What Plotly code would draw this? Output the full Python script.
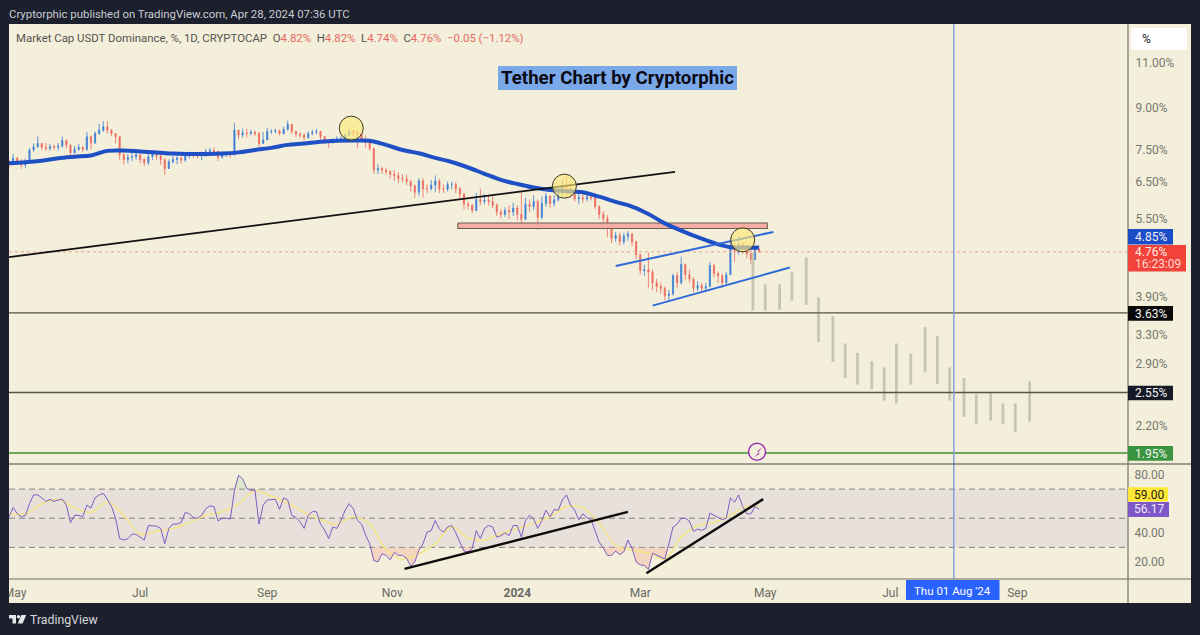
import pandas as pd
import plotly.graph_objects as go

# ---- data ----
candle_start = "2023-04-28"   # one candle per two days
close = [7.00,7.21,7.12,7.00,7.10,7.48,7.59,7.70,7.57,7.53,7.59,7.57,7.61,7.80,7.65,7.39,7.50,7.57,7.50,7.93,
7.72,8.05,8.17,8.29,8.17,8.05,7.93,7.32,7.17,7.24,7.26,7.32,7.17,7.07,7.26,7.35,7.28,7.17,6.89,7.10,
7.17,7.21,7.15,7.32,7.35,7.32,7.28,7.32,7.43,7.46,7.43,7.24,7.35,7.35,7.32,8.17,7.99,8.07,8.05,8.09,
8.05,7.70,7.82,8.12,8.12,8.14,8.05,8.20,8.38,8.12,8.03,7.99,7.90,8.05,8.09,8.12,7.93,7.80,7.72,7.82,
7.85,7.85,7.99,8.12,8.09,8.05,7.85,7.75,7.53,6.84,6.89,6.84,6.79,6.72,6.68,6.59,6.57,6.50,6.38,6.20,
6.52,6.30,6.30,6.40,6.52,6.30,6.28,6.42,6.42,6.30,6.15,5.88,5.85,5.72,6.00,5.95,5.98,5.95,5.85,5.68,
5.62,5.72,5.68,5.78,5.62,5.50,5.88,5.82,5.95,5.55,5.90,6.10,5.90,6.00,6.18,6.38,6.32,6.20,6.02,6.05,
6.02,6.08,6.05,5.82,5.62,5.52,5.28,5.05,5.12,4.98,5.10,5.15,4.98,4.70,4.38,4.40,4.35,4.15,4.08,4.05,
3.92,3.95,4.28,4.15,4.50,4.30,4.22,4.05,4.10,4.05,4.08,4.48,4.32,4.28,4.15,4.30,4.88,4.78,4.92,4.85,
4.72,4.60,4.82,4.76]
high = [7.15,7.35,7.25,7.18,7.20,7.55,7.70,7.95,7.72,7.72,7.68,7.66,7.72,7.95,7.85,7.65,7.62,7.68,7.60,8.10,
7.98,8.12,8.40,8.50,8.50,8.20,8.05,7.95,7.40,7.35,7.38,7.48,7.34,7.22,7.40,7.46,7.40,7.32,7.20,7.18,
7.28,7.30,7.26,7.40,7.42,7.40,7.38,7.42,7.52,7.55,7.56,7.45,7.42,7.42,7.40,8.42,8.15,8.22,8.22,8.18,
8.15,8.10,8.10,8.25,8.20,8.22,8.20,8.30,8.52,8.40,8.15,8.08,8.05,8.12,8.18,8.22,8.15,7.95,7.85,7.88,
7.95,7.95,8.05,8.22,8.18,8.12,8.05,7.98,7.85,7.55,7.02,6.95,6.90,6.84,6.84,6.78,6.72,6.70,6.55,6.42,
6.60,6.60,6.42,6.55,6.68,6.58,6.42,6.50,6.50,6.48,6.35,6.18,5.95,5.88,6.18,6.30,6.15,6.10,6.10,5.90,
5.75,5.80,5.85,5.92,5.85,6.22,6.05,6.00,6.12,6.00,6.08,6.18,6.10,6.12,6.25,6.55,6.65,6.42,6.28,6.18,
6.15,6.15,6.14,6.08,5.85,5.70,5.60,5.30,5.20,5.18,5.18,5.22,5.18,5.00,4.72,4.50,4.75,4.40,4.22,4.15,
4.08,4.02,4.32,4.35,4.66,4.52,4.40,4.25,4.18,4.15,4.15,4.55,4.52,4.36,4.32,4.36,5.05,4.95,5.10,4.98,
4.88,4.80,4.88,4.82]
low = [6.88,7.02,7.00,6.88,6.90,7.10,7.42,7.55,7.48,7.46,7.46,7.48,7.46,7.55,7.52,7.28,7.36,7.45,7.42,7.45,
7.50,7.68,8.00,8.10,8.05,7.95,7.70,7.15,7.00,7.05,7.12,7.16,7.05,6.96,7.00,7.15,7.15,7.00,6.70,6.88,
7.04,7.02,7.04,7.10,7.20,7.22,7.20,7.15,7.25,7.32,7.35,7.12,7.20,7.25,7.22,7.30,7.85,7.90,7.90,7.98,
7.95,7.58,7.70,7.95,8.02,8.05,7.98,8.00,8.15,8.02,7.92,7.88,7.80,7.86,7.98,8.02,7.82,7.68,7.55,7.70,
7.72,7.75,7.85,7.98,7.95,7.55,7.75,7.55,7.45,6.72,6.72,6.72,6.70,6.60,6.52,6.45,6.48,6.40,6.22,6.05,
6.10,6.05,6.18,6.25,6.20,6.18,6.18,6.22,6.28,6.18,6.00,5.75,5.75,5.65,5.70,5.85,5.88,5.85,5.78,5.58,
5.52,5.56,5.50,5.58,5.48,5.32,5.60,5.68,5.72,5.25,5.50,5.82,5.78,5.82,5.95,6.10,6.05,6.05,5.95,5.88,
5.92,5.95,5.98,5.75,5.50,5.42,5.08,4.95,4.98,4.90,4.92,5.00,4.88,4.60,4.30,4.28,4.06,4.02,3.98,3.95,
3.84,3.82,3.92,4.05,4.12,4.20,4.15,3.98,4.00,3.98,3.98,4.08,4.25,4.15,4.05,4.12,4.30,4.55,4.70,4.72,
4.62,4.50,4.62,4.74]
first_open = 7.05

ma_step_dates_start = "2023-04-28"   # one reading per eight days
ma_line = [7.05,7.08,7.13,7.21,7.26,7.30,7.45,7.46,7.43,7.40,7.36,7.35,7.35,7.36,7.40,7.48,7.55,7.65,7.70,7.76,
7.79,7.80,7.79,7.65,7.48,7.37,7.22,7.09,6.92,6.73,6.55,6.43,6.33,6.26,6.23,6.20,6.08,5.94,5.82,5.63,
5.40,5.23,5.08,4.95,4.86,4.85]

rsi = [50.9,57.4,53.2,50.9,52,60,66,66,64,61.5,63,61.5,62.5,63,59,47,52,52,51,59,
57,64,66,67,63,58,50,36,35,36,39,39,37,35,45,45,44.5,43,32.5,43,
46,46,47,54,53,50.5,50,52,56.5,58.5,58,48,50,50,49.5,69,79.5,77,70.5,69,
69.5,46,59,62.5,62.5,63,56,64,62.5,52,50.5,47.5,43,52,54.5,54.5,46,42,36,44,
43,48.5,55.5,60,56.5,48.5,46,38.5,32.5,21,20,25.6,24.5,21.5,26.5,24.5,24.5,22.5,17,20,
28,32.5,40.5,41.5,48.5,42.5,40.5,44,45,40,33.5,27.5,27,29,41.5,36,43,45,44,37,
38,40,38,45,45,37,48.5,52,49.5,43,48.5,55.5,51,56,55.5,62.5,66,59,55.5,49,
53,50.5,49,41.7,33.5,29.5,24.5,24.5,27.5,25,27,35,29.5,20,18,17.5,15,26,24.5,23.3,
22,32.5,44,46,50,50,48,41,42.5,41.7,43,53.5,52,50,49,50,64,61,66,58,
53,53,58,56.17]
rsi_ma = [53,53,60,63,57,54,61,52,39,41,43,47,52,54.5,60,69,65,60.5,54,49,
46,51,46,28.5,22,25.5,32.5,44,36.5,35,39.5,43,46.5,51,58,57,46.5,31.5,28,26,
22,37,45,47,52,58]
last_reading = "2024-04-28"

ghost_dates = ["2024-04-25","2024-05-01","2024-05-08","2024-05-14","2024-05-21","2024-05-27","2024-06-03","2024-06-09",
"2024-06-15","2024-06-22","2024-06-28","2024-07-04","2024-07-11","2024-07-18","2024-07-24","2024-07-30","2024-08-06",
"2024-08-12","2024-08-19","2024-08-25","2024-08-31","2024-09-07"]
ghost_high = [4.74,4.12,4.12,4.35,4.64,3.89,3.58,3.17,3.04,2.93,2.85,3.17,3.03,3.41,3.28,2.85,2.72,2.53,2.56,2.43,2.43,2.68]
ghost_low = [3.67,3.67,3.68,3.83,3.76,3.19,2.92,2.72,2.64,2.59,2.46,2.43,2.64,2.79,2.65,2.46,2.29,2.22,2.25,2.22,2.14,2.24]

axis_start, axis_end = "2023-04-28", "2024-10-25"
black_trend_x, black_trend_y = ["2023-04-28","2024-03-18"], [4.65,6.79]
channel_up_x, channel_up_y = ["2024-02-18","2024-05-05"], [4.47,5.20]
channel_lo_x, channel_lo_y = ["2024-03-07","2024-05-13"], [3.75,4.44]
zone_x = ["2023-12-03","2024-05-02"]
zone_y = [5.41,5.28]
level_black = [3.63,2.55]
level_green = 1.95
last_price = 4.76
circle_x = ["2023-10-12","2024-01-24","2024-04-20"]
circle_y = [8.24,6.37,5.02]
badge_x, badge_y = ["2024-04-27"], [1.96]
rsi_trend1_x, rsi_trend1_y = ["2023-11-07","2024-02-24"], [15.3,54.3]
rsi_trend2_x, rsi_trend2_y = ["2024-03-04","2024-04-30"], [12.3,63.1]
cursor_date = "2024-08-01"

price_ticks = [11,9,7.5,6.5,5.5,3.9,3.3,2.9,2.2]
price_labels = ["11.00%","9.00%","7.50%","6.50%","5.50%","3.90%","3.30%","2.90%","2.20%"]
rsi_ticks = [80,40,20]
rsi_labels = ["80.00","40.00","20.00"]
time_ticks = ["2023-05-01","2023-07-01","2023-09-01","2023-11-01","2024-01-01","2024-03-01","2024-05-01","2024-07-01","2024-09-01"]
time_labels = ["May","Jul","Sep","Nov","<b>2024</b>","Mar","May","Jul","Sep"]

# ---- styles ----
DARK, CREAM = "#1c202c", "#f3efdb"
UP, DOWN = "#3f7fd6", "#ee6a5f"
W, H = 1200, 635
L, R, T, B = 9, 1128, 24, 579
FONT = "Roboto"

def px(x): return (x - L) / (R - L)
def py(y): return (B - y) / (B - T)

def rect(x0, y0, x1, y1, color, layer="above", line=None):
    return dict(type="rect", xref="paper", yref="paper", x0=px(x0), x1=px(x1), y0=py(y0), y1=py(y1),
                fillcolor=color, line=dict(width=0 if line is None else 1, color=line or color), layer=layer)

def poly(points, color):
    d = "M" + " L".join(f"{px(a):.5f},{py(b):.5f}" for a, b in points) + " Z"
    return dict(type="path", xref="paper", yref="paper", path=d, fillcolor=color, line=dict(width=0), layer="above")

def text(x, y, s, size=12, color="#555", anchor="left", bg=None, family=FONT):
    return dict(xref="paper", yref="paper", x=px(x), y=py(y), text=s, showarrow=False, xanchor=anchor, yanchor="middle",
                font=dict(size=size, color=color, family=family), bgcolor=bg, borderpad=0)

dates = pd.date_range(candle_start, periods=len(close), freq="2D")
ma_dates = list(pd.date_range(ma_step_dates_start, periods=len(ma_line), freq="8D")) + [pd.Timestamp(last_reading)]
opens = [first_open] + close[:-1]

fig = go.Figure()
def line(x, y, color, width, axis="y", dash=None, shape=None):
    fig.add_trace(go.Scatter(x=x, y=y, mode="lines", yaxis=axis, xaxis="x", hoverinfo="skip", showlegend=False,
                             line=dict(color=color, width=width, dash=dash, shape=shape)))

# ghost bars
gx, gy = [], []
for d, a, b in zip(ghost_dates, ghost_high, ghost_low):
    gx += [d, d, None]; gy += [a, b, None]
line(gx, gy, "#c8c5b4", 2.8)

# levels
for lv in level_black:
    line([axis_start, axis_end], [lv, lv], "#55534a", 1.4)
line([axis_start, axis_end], [level_green, level_green], "#3f8f35", 1.6)
line([axis_start, axis_end], [last_price, last_price], "#e7a48f", 1, dash="dot")

# support zone
fig.add_trace(go.Scatter(x=[zone_x[0], zone_x[1], zone_x[1], zone_x[0], zone_x[0]],
                         y=[zone_y[0], zone_y[0], zone_y[1], zone_y[1], zone_y[0]], mode="lines", fill="toself",
                         fillcolor="#f5aea6", line=dict(color="#6b5a50", width=1.1), hoverinfo="skip", showlegend=False))

fig.add_trace(go.Candlestick(x=dates, open=opens, high=high, low=low, close=close, hoverinfo="skip", showlegend=False,
                             whiskerwidth=0, line=dict(width=0.8),
                             increasing=dict(line=dict(color=UP, width=0.8), fillcolor=UP),
                             decreasing=dict(line=dict(color=DOWN, width=0.8), fillcolor=DOWN)))

line(ma_dates, ma_line + [ma_line[-1]], "#1f4fc4", 4, shape="spline")
line(black_trend_x, black_trend_y, "#111111", 1.8)
line(channel_up_x, channel_up_y, "#2f6ad8", 2)
line(channel_lo_x, channel_lo_y, "#2f6ad8", 2)

fig.add_trace(go.Scatter(x=circle_x, y=circle_y, mode="markers", hoverinfo="skip", showlegend=False,
                         marker=dict(size=24, color="rgba(252,232,120,0.66)", line=dict(color="#3c3a2a", width=1))))
fig.add_trace(go.Scatter(x=badge_x, y=badge_y, mode="markers", hoverinfo="skip", showlegend=False,
                         marker=dict(size=17, color=CREAM, line=dict(color="#9b2fae", width=1.5))))

# RSI pane
line(dates, [30]*len(rsi), "rgba(0,0,0,0)", 0, axis="y2")
fig.add_trace(go.Scatter(x=dates, y=[min(v, 30) for v in rsi], yaxis="y2", mode="lines", fill="tonexty",
                         fillcolor="rgba(246,170,150,0.38)", line=dict(width=0), hoverinfo="skip", showlegend=False))
line(dates, [70]*len(rsi), "rgba(0,0,0,0)", 0, axis="y2")
fig.add_trace(go.Scatter(x=dates, y=[max(v, 70) for v in rsi], yaxis="y2", mode="lines", fill="tonexty",
                         fillcolor="rgba(170,215,170,0.32)", line=dict(width=0), hoverinfo="skip", showlegend=False))
line(ma_dates, rsi_ma + [rsi_ma[-1]], "#f3e489", 1.6, axis="y2", shape="spline")
line(dates, rsi, "#7e5cc2", 1, axis="y2")
line(rsi_trend1_x, rsi_trend1_y, "#0c0c0c", 2.4, axis="y2")
line(rsi_trend2_x, rsi_trend2_y, "#0c0c0c", 2.4, axis="y2")

shapes = [
    rect(9, 24, 1191, 603, CREAM, layer="below"),
    dict(type="rect", xref="paper", yref="y2", x0=0, x1=1, y0=30, y1=70, fillcolor="#e8e0da", line=dict(width=0), layer="below"),
]
for lv in (70, 50, 30):
    shapes.append(dict(type="line", xref="paper", yref="y2", x0=0, x1=1, y0=lv, y1=lv, layer="below",
                       line=dict(color="#85827a", width=1, dash="6px,4px")))
shapes += [
    dict(type="line", xref="x", yref="paper", x0=cursor_date, x1=cursor_date, y0=0, y1=1, layer="above",
         line=dict(color="#7d9fd8", width=1.4)),
    dict(type="line", xref="paper", yref="paper", x0=px(9), x1=px(1191), y0=py(464), y1=py(464), line=dict(color="#4a4a42", width=1.1)),
    dict(type="line", xref="paper", yref="paper", x0=px(9), x1=px(1191), y0=py(579), y1=py(579), line=dict(color="#6e6c60", width=1)),
    dict(type="line", xref="paper", yref="paper", x0=px(1128), x1=px(1128), y0=py(24), y1=py(603), line=dict(color="#77756a", width=1.2)),
    rect(0, 560, 9, 610, DARK),
    rect(906, 580, 999.5, 600, "#2962ff"),
    rect(1128, 229, 1173, 244.5, "#1c4cc8"),
    rect(1128, 245, 1186, 271.5, "#f2433a"),
    rect(1128, 306, 1173, 320.7, "#0a0a0a"),
    rect(1128, 385.7, 1173, 400.3, "#161a26"),
    rect(1128, 446, 1173, 460.7, "#3b9440"),
    rect(1128, 487.3, 1168, 501.5, "#ffe735"),
    rect(1128, 502, 1169, 517, "#7e57c9"),
    dict(type="path", xref="paper", yref="paper", layer="above", fillcolor="#ffffff", line=dict(width=0),
         path="M{},{} L{},{} Q{},{} {},{} L{},{} Q{},{} {},{} L{},{} Q{},{} {},{} L{},{} Q{},{} {},{} Z".format(
             px(1134),py(28), px(1184),py(28), px(1187),py(28), px(1187),py(31), px(1187),py(47), px(1187),py(50), px(1184),py(50),
             px(1134),py(50), px(1131),py(50), px(1131),py(47), px(1131),py(31), px(1131),py(28), px(1134),py(28))),
    poly([(762.5,447),(757.2,451.5),(759,452.2),(754,457.5),(759.8,453.5),(758,452.6)], "#9b2fae"),
    poly([(9,615),(16,615),(16,623.5),(12.5,623.5),(12.5,618.4),(9,618.4)], "#e4e6ea"),
    poly([(21.3,615),(26.2,615),(22.6,623.5),(17.8,623.5)], "#e4e6ea"),
    dict(type="circle", xref="paper", yref="paper", x0=px(16.8), x1=px(20.2), y0=py(615), y1=py(618.4), fillcolor="#e4e6ea", line=dict(width=0)),
]

R_ = "#e86a62"
legend = ("Market Cap USDT Dominance, %, 1D, CRYPTOCAP  O"
          f"<span style='color:{R_}'>4.82%</span>  H<span style='color:{R_}'>4.82%</span>  L<span style='color:{R_}'>4.74%</span>  "
          f"C<span style='color:{R_}'>4.76%</span>  <span style='color:{R_}'>−0.05 (−1.12%)</span>")
annotations = [
    text(8, 14, "Cryptorphic published on TradingView.com, Apr 28, 2024 07:36 UTC", 11.4, "#c9ccd3"),
    text(15, 38, legend, 11.4, "#55554f"),
    text(1141, 39, "%", 12, "#20222a"),
    text(1134, 237, "4.85%", 12, "#f2f2f5"),
    text(1134, 252, "4.76%", 12, "#ffe9e2"),
    text(1134, 264, "16:23:09", 12, "#ffd8d0"),
    text(1134, 313.5, "3.63%", 12, "#f4f4f4"),
    text(1134, 393, "2.55%", 12, "#f4f4f4"),
    text(1134, 453.5, "1.95%", 12, "#f4f4f4"),
    text(1133, 494.5, "59.00", 12, "#1a1a1a"),
    text(1133, 509.5, "56.17", 12, "#f0ecfa"),
    text(952.5, 590.5, "Thu 01 Aug '24", 11.5, "#ffffff", anchor="center"),
    text(29, 620, "TradingView", 12.3, "#d6d8de"),
]

# title box
shapes.append(rect(498, 66, 737, 90, "#7ba8e8", layer="below"))
annotations.append(text(617.5, 78, "<b>Tether Chart by Cryptorphic</b>", 18.7, "#0a0a14", anchor="center"))

fig.update_layout(
    width=W, height=H, margin=dict(l=L, r=W - R, t=T, b=H - B, autoexpand=False),
    paper_bgcolor=DARK, plot_bgcolor="rgba(0,0,0,0)", showlegend=False, hovermode=False, boxgap=0.6,
    font=dict(family=FONT, size=12, color="#666"), shapes=shapes, annotations=annotations,
    xaxis=dict(type="date", range=[axis_start, axis_end], anchor="y2", domain=[0, 1], showgrid=False, zeroline=False,
               rangeslider=dict(visible=False), tickmode="array", tickvals=time_ticks, ticktext=time_labels,
               ticks="outside", ticklen=3, tickcolor="rgba(0,0,0,0)", tickfont=dict(size=12, color="#6a6a64"), showline=False),
    yaxis=dict(type="log", range=[0.2688, 1.1166], domain=[py(464), 1], anchor="x", side="right", showgrid=False, zeroline=False,
               tickmode="array", tickvals=price_ticks, ticktext=price_labels, ticks="outside", ticklen=4, tickcolor="rgba(0,0,0,0)",
               tickfont=dict(size=12, color="#77776f"), showline=False),
    yaxis2=dict(range=[8.3, 87.2], domain=[0, py(464)], anchor="x", side="right", showgrid=False, zeroline=False,
                tickmode="array", tickvals=rsi_ticks, ticktext=rsi_labels, ticks="outside", ticklen=3, tickcolor="rgba(0,0,0,0)",
                tickfont=dict(size=12, color="#77776f"), showline=False),
)

fig.write_html("out.html", config=dict(displayModeBar=False),
               post_script="document.body.style.margin='0';document.body.style.background='%s';" % DARK)
